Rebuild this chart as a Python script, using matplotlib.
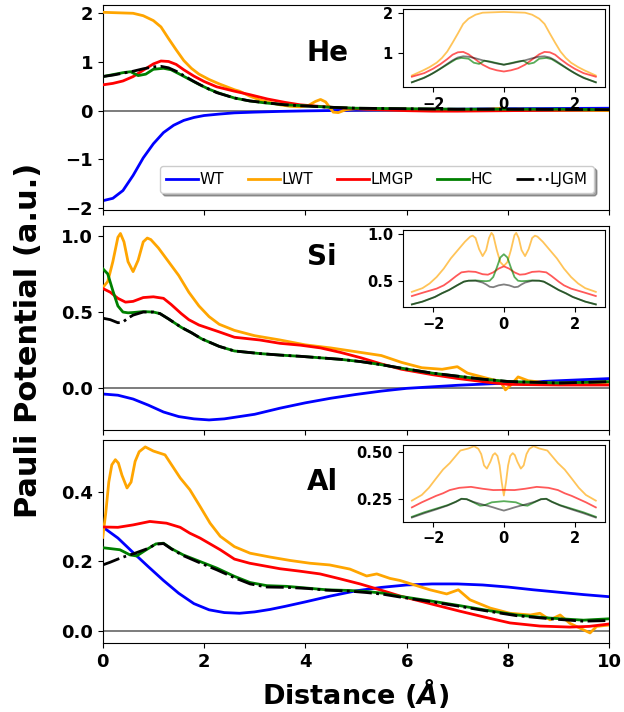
import numpy as np
import matplotlib
matplotlib.use("Agg")
import matplotlib.pyplot as plt

plt.rcParams['font.family'] = ['DejaVu Sans']
plt.rcParams['font.weight'] = 'bold'

labels = ['WT', 'LWT', 'LMGP', 'HC', 'LJGM']
colors = ['blue', 'orange', 'red', 'green', 'black']
styles = ['-', '-', '-', '-', '-.']
elements = ['He', 'Si', 'Al']

# ---------------- He ----------------
he_wt = [(0, -1.85), (0.2, -1.80), (0.4, -1.64), (0.6, -1.33), (0.8, -0.97), (1.0, -0.68),
         (1.2, -0.45), (1.4, -0.30), (1.6, -0.20), (1.8, -0.14), (2.0, -0.10), (2.3, -0.07),
         (2.6, -0.045), (3.0, -0.03), (3.5, -0.015), (4.0, -0.005), (5.0, 0.01), (6.0, 0.02),
         (7.0, 0.03), (8.0, 0.04), (9.0, 0.045), (10.0, 0.05)]
he_lwt = [(0, 2.02), (0.3, 2.01), (0.6, 2.0), (0.8, 1.95), (1.0, 1.85), (1.15, 1.72), (1.3, 1.48),
          (1.45, 1.25), (1.6, 1.03), (1.75, 0.87), (1.9, 0.75), (2.1, 0.64), (2.3, 0.55),
          (2.5, 0.47), (2.6, 0.43), (2.7, 0.40), (2.9, 0.30), (3.1, 0.22), (3.3, 0.17), (3.5, 0.12),
          (3.7, 0.09), (3.9, 0.08), (4.05, 0.10), (4.2, 0.19), (4.3, 0.23), (4.4, 0.18),
          (4.55, -0.03), (4.65, -0.04), (4.8, 0.02), (5.0, 0.04), (5.5, 0.03), (6.0, 0.03),
          (6.5, 0.02), (7.0, 0.02), (7.5, 0.02), (7.9, 0.05), (8.0, 0.0), (8.2, 0.03), (8.5, 0.02),
          (9.0, 0.01), (9.5, 0.01), (10.0, 0.0)]
he_lmgp = [(0, 0.53), (0.2, 0.56), (0.4, 0.61), (0.6, 0.70), (0.8, 0.83), (1.0, 0.96), (1.15, 1.02),
           (1.3, 1.01), (1.45, 0.95), (1.6, 0.84), (1.8, 0.71), (2.0, 0.60), (2.25, 0.49),
           (2.6, 0.40), (2.9, 0.33), (3.25, 0.24), (3.6, 0.17), (3.9, 0.12), (4.5, 0.07), (5.2, 0.03),
           (6.0, 0.0), (6.5, -0.01), (7.0, -0.01), (8.0, 0.0), (9.0, 0.01), (10.0, 0.02)]
he_hc = [(0, 0.70), (0.2, 0.74), (0.4, 0.78), (0.55, 0.80), (0.7, 0.72), (0.85, 0.75), (1.0, 0.85),
         (1.2, 0.87), (1.35, 0.84), (1.5, 0.76), (1.7, 0.65), (1.9, 0.54), (2.1, 0.44), (2.3, 0.36),
         (2.6, 0.26), (2.9, 0.20), (3.2, 0.16), (3.6, 0.12), (4.0, 0.10), (4.5, 0.07), (5.0, 0.05),
         (6.0, 0.04), (7.0, 0.03), (8.0, 0.03), (9.0, 0.03), (10.0, 0.02)]
he_ljgm = [(0, 0.70), (0.2, 0.73), (0.4, 0.77), (0.6, 0.81), (0.8, 0.86), (1.0, 0.90), (1.15, 0.91),
           (1.3, 0.88), (1.45, 0.81), (1.6, 0.72), (1.8, 0.60), (2.0, 0.49), (2.25, 0.37),
           (2.6, 0.26), (2.9, 0.20), (3.25, 0.16), (3.6, 0.12), (3.9, 0.10), (4.5, 0.07), (5.0, 0.05),
           (6.0, 0.04), (7.0, 0.03), (8.0, 0.03), (9.0, 0.025), (10.0, 0.02)]

# ---------------- Si ----------------
si_wt = [(0, -0.037), (0.3, -0.045), (0.6, -0.07), (0.9, -0.11), (1.2, -0.155), (1.5, -0.185),
         (1.8, -0.20), (2.1, -0.207), (2.4, -0.20), (2.7, -0.185), (3.0, -0.17), (3.5, -0.13),
         (4.0, -0.095), (4.5, -0.065), (5.0, -0.04), (5.5, -0.018), (6.0, 0.0), (7.0, 0.02),
         (8.0, 0.035), (9.0, 0.05), (10.0, 0.064)]
si_lwt = [(0, 0.66), (0.1, 0.70), (0.2, 0.83), (0.3, 0.99), (0.35, 1.015), (0.42, 0.96), (0.5, 0.83),
          (0.6, 0.765), (0.7, 0.84), (0.8, 0.96), (0.88, 0.985), (0.95, 0.975), (1.1, 0.92),
          (1.3, 0.83), (1.5, 0.74), (1.7, 0.63), (1.9, 0.54), (2.1, 0.47), (2.3, 0.42), (2.6, 0.38),
          (3.0, 0.345), (3.5, 0.317), (4.0, 0.285), (4.5, 0.265), (5.0, 0.24), (5.5, 0.215),
          (5.9, 0.17), (6.3, 0.135), (6.7, 0.125), (7.0, 0.142), (7.2, 0.10), (7.6, 0.065),
          (7.85, 0.045), (7.95, -0.01), (8.05, 0.02), (8.2, 0.075), (8.4, 0.05), (8.8, 0.035),
          (9.5, 0.033), (10.0, 0.04)]
si_lmgp = [(0, 0.655), (0.15, 0.63), (0.3, 0.59), (0.45, 0.565), (0.6, 0.57), (0.8, 0.595),
           (1.0, 0.60), (1.2, 0.59), (1.35, 0.55), (1.55, 0.49), (1.7, 0.45), (1.9, 0.415),
           (2.3, 0.37), (2.6, 0.335), (3.1, 0.317), (3.5, 0.295), (3.9, 0.283), (4.3, 0.265),
           (4.7, 0.235), (5.1, 0.20), (5.5, 0.16), (5.9, 0.125), (6.5, 0.09), (7.0, 0.065),
           (7.6, 0.04), (8.0, 0.026), (9.0, 0.022), (10.0, 0.022)]
si_hc = [(0, 0.785), (0.1, 0.75), (0.2, 0.64), (0.3, 0.54), (0.4, 0.50), (0.5, 0.495), (0.6, 0.497),
         (0.8, 0.503), (1.0, 0.50), (1.13, 0.49), (1.3, 0.455), (1.55, 0.40), (1.75, 0.365),
         (1.95, 0.325), (2.3, 0.275), (2.6, 0.245), (3.1, 0.228), (3.5, 0.218), (3.9, 0.21),
         (4.3, 0.20), (4.7, 0.19), (5.1, 0.175), (5.5, 0.155), (5.9, 0.132), (6.5, 0.10),
         (7.0, 0.08), (7.5, 0.06), (8.0, 0.045), (9.0, 0.035), (10.0, 0.044)]
si_ljgm = [(0, 0.46), (0.15, 0.45), (0.3, 0.43), (0.4, 0.435), (0.5, 0.46), (0.6, 0.48), (0.8, 0.50),
           (1.0, 0.50), (1.13, 0.49), (1.3, 0.455), (1.55, 0.40), (1.75, 0.365), (1.95, 0.325),
           (2.3, 0.275), (2.6, 0.245), (3.1, 0.228), (3.5, 0.218), (3.9, 0.21), (4.3, 0.20),
           (4.7, 0.19), (5.1, 0.175), (5.5, 0.155), (5.9, 0.132), (6.5, 0.10), (7.0, 0.08),
           (7.5, 0.06), (8.0, 0.045), (9.0, 0.035), (10.0, 0.044)]

# ---------------- Al ----------------
al_wt = [(0, 0.300), (0.3, 0.268), (0.6, 0.226), (0.9, 0.185), (1.2, 0.145), (1.5, 0.108),
         (1.8, 0.078), (2.1, 0.060), (2.4, 0.052), (2.7, 0.050), (3.0, 0.054), (3.3, 0.061),
         (3.6, 0.070), (4.0, 0.083), (4.5, 0.100), (5.0, 0.115), (5.5, 0.125), (6.0, 0.132),
         (6.5, 0.135), (7.0, 0.135), (7.5, 0.132), (8.0, 0.126), (8.5, 0.118), (9.0, 0.111),
         (9.5, 0.104), (10.0, 0.098)]
al_lwt = [(0, 0.27), (0.06, 0.34), (0.12, 0.43), (0.18, 0.48), (0.25, 0.495), (0.31, 0.485),
          (0.38, 0.45), (0.48, 0.413), (0.56, 0.43), (0.64, 0.49), (0.72, 0.518), (0.84, 0.532),
          (1.0, 0.52), (1.23, 0.509), (1.36, 0.48), (1.53, 0.442), (1.72, 0.408), (1.92, 0.36),
          (2.12, 0.311), (2.32, 0.273), (2.6, 0.243), (2.91, 0.224), (3.3, 0.213), (3.7, 0.203),
          (4.09, 0.195), (4.48, 0.19), (4.88, 0.178), (5.21, 0.158), (5.41, 0.164), (5.67, 0.151),
          (5.87, 0.145), (6.46, 0.118), (6.79, 0.106), (7.02, 0.118), (7.25, 0.089), (7.65, 0.065),
          (8.04, 0.05), (8.44, 0.045), (8.63, 0.05), (8.83, 0.031), (9.03, 0.045), (9.22, 0.021),
          (9.42, 0.007), (9.62, -0.007), (9.75, 0.012), (10.0, 0.016)]
al_lmgp = [(0, 0.30), (0.3, 0.299), (0.6, 0.306), (0.93, 0.316), (1.26, 0.311), (1.53, 0.299),
           (1.72, 0.282), (1.92, 0.268), (2.32, 0.234), (2.6, 0.207), (2.9, 0.195), (3.5, 0.179),
           (3.89, 0.172), (4.29, 0.164), (4.68, 0.150), (5.08, 0.135), (5.47, 0.118), (5.87, 0.10),
           (6.46, 0.078), (7.05, 0.056), (7.65, 0.035), (8.04, 0.022), (8.63, 0.013), (9.22, 0.01),
           (9.6, 0.012), (10.0, 0.019)]
al_hc = [(0, 0.24), (0.34, 0.234), (0.54, 0.219), (0.67, 0.216), (0.86, 0.234), (1.05, 0.251),
         (1.2, 0.253), (1.36, 0.237), (1.59, 0.219), (1.92, 0.20), (2.25, 0.181), (2.6, 0.157),
         (2.91, 0.139), (3.24, 0.13), (3.63, 0.128), (4.03, 0.123), (4.42, 0.118), (4.88, 0.116),
         (5.21, 0.113), (5.54, 0.108), (5.87, 0.099), (6.46, 0.086), (7.05, 0.072), (7.65, 0.057),
         (8.17, 0.045), (8.83, 0.036), (9.49, 0.030), (10.0, 0.034)]
al_ljgm = [(0, 0.19), (0.15, 0.198), (0.3, 0.207), (0.45, 0.215), (0.6, 0.222), (0.86, 0.236),
           (1.05, 0.25), (1.2, 0.252), (1.36, 0.236), (1.59, 0.217), (1.92, 0.196), (2.25, 0.176),
           (2.6, 0.153), (2.91, 0.135), (3.24, 0.126), (3.63, 0.125), (4.03, 0.122), (4.42, 0.117),
           (4.88, 0.114), (5.21, 0.11), (5.54, 0.105), (5.87, 0.097), (6.46, 0.084), (7.05, 0.07),
           (7.65, 0.055), (8.17, 0.043), (8.83, 0.034), (9.49, 0.027), (10.0, 0.029)]

panel_series = [
    [he_wt, he_lwt, he_lmgp, he_hc, he_ljgm],
    [si_wt, si_lwt, si_lmgp, si_hc, si_ljgm],
    [al_wt, al_lwt, al_lmgp, al_hc, al_ljgm],
]
main_ylims = [(-2.04, 2.17), (-0.273, 1.066), (-0.037, 0.552)]
main_yticks = [[-2, -1, 0, 1, 2], [0.0, 0.5, 1.0], [0.0, 0.2, 0.4]]
inset_ylims = [(0.135, 2.1), (0.217, 1.046), (0.131, 0.54)]
inset_yticks = [[1, 2], [0.5, 1.0], [0.25, 0.50]]
label_y = [0.766, 0.845, 0.795]
inset_cut = 2.6

fig = plt.figure(figsize=(6.24, 7.12), dpi=100)
W, H = 624.0, 712.0
main_boxes = [(5, 210), (225.7, 430), (440, 643.3)]
inset_boxes = [(8.7, 87.3), (230, 307), (444.7, 521.7)]
left_px, right_px = 102.7, 609.3
ileft_px, iright_px = 402.7, 605.0

axes = []
for p in range(3):
    top, bot = main_boxes[p]
    ax = fig.add_axes([left_px / W, 1 - bot / H, (right_px - left_px) / W, (bot - top) / H])
    axes.append(ax)
    ax.axhline(0, color='0.4', lw=1.2, zorder=1)
    for s, series in enumerate(panel_series[p]):
        arr = np.array(series)
        ax.plot(arr[:, 0], arr[:, 1], color=colors[s], ls=styles[s], lw=2.0, label=labels[s], zorder=2 + s)
    ax.set_xlim(0, 10)
    ax.set_ylim(*main_ylims[p])
    ax.set_yticks(main_yticks[p])
    ax.tick_params(labelsize=13)
    ax.set_xticks([0, 2, 4, 6, 8, 10])
    if p < 2:
        ax.tick_params(labelbottom=False)
    ax.text(0.403, label_y[p], elements[p], transform=ax.transAxes, fontsize=20,
            fontweight='bold', ha='left', va='center')

    # inset
    itop, ibot = inset_boxes[p]
    iax = fig.add_axes([ileft_px / W, 1 - ibot / H, (iright_px - ileft_px) / W, (ibot - itop) / H])
    for s, series in enumerate(panel_series[p]):
        if s == 0:
            continue
        arr = np.array(series)
        m = arr[:, 0] <= inset_cut + 1e-9
        xs, ys = arr[m, 0], arr[m, 1]
        xm = np.concatenate([-xs[::-1], xs[1:]])
        ym = np.concatenate([ys[::-1], ys[1:]])
        alpha = 0.5 if s == 4 else 0.65
        iax.plot(xm, ym, color=colors[s], ls='-', lw=1.3, alpha=alpha)
    iax.set_xlim(-2.86, 2.86)
    iax.set_ylim(*inset_ylims[p])
    iax.set_xticks([-2, 0, 2])
    iax.set_yticks(inset_yticks[p])
    iax.tick_params(labelsize=10.5)

leg = axes[0].legend(loc='lower right', ncol=5, shadow=True, fancybox=True,
                     handletextpad=0.1, columnspacing=1.55, handlelength=2.1,
                     prop={'weight': 'normal', 'size': 11}, bbox_to_anchor=(0.985, 0.045))

axes[2].set_xlabel('Distance ($\\AA$)', fontsize=19.5, fontweight='bold')
fig.text(0.045, 0.522, 'Pauli Potential (a.u.)', rotation=90, va='center', ha='center',
         fontsize=22, fontweight='bold')

fig.savefig('out.png', dpi=100)
